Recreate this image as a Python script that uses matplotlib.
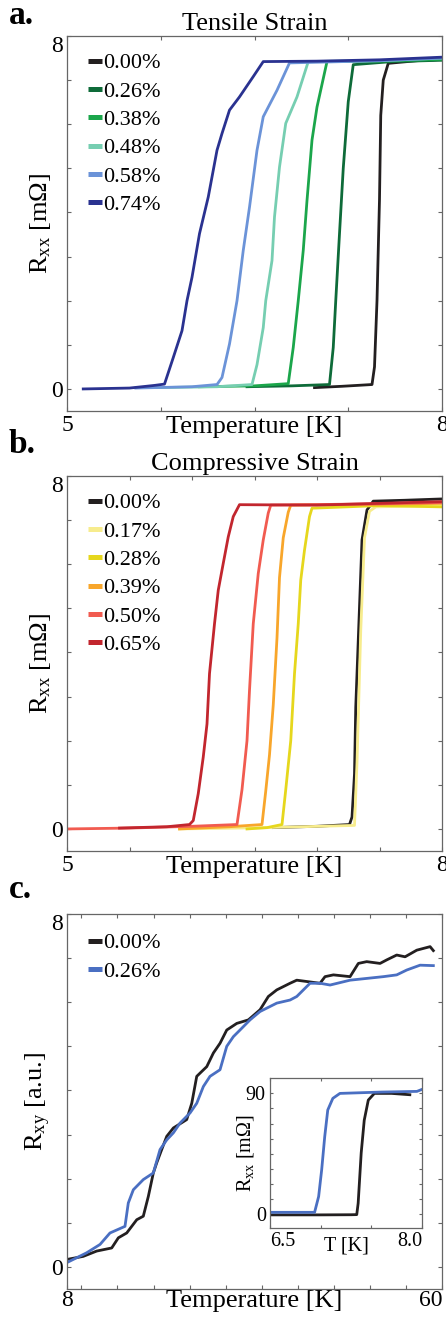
import matplotlib
matplotlib.use("Agg")
import matplotlib.pyplot as plt
import numpy as np

plt.rcParams["font.family"] = ["Liberation Serif", "DejaVu Serif"]
plt.rcParams["mathtext.fontset"] = "custom"
plt.rcParams["mathtext.rm"] = "Liberation Serif"
plt.rcParams["mathtext.it"] = "Liberation Serif:italic"

# ---- panel a: tensile strain, R_xx vs T ----
tensile_labels = ["0.00%", "0.26%", "0.38%", "0.48%", "0.58%", "0.74%"]
tensile_colors = ["#231f20", "#0e6b39", "#1ba64b", "#76ceb1", "#6b93d8", "#2a3290"]
tensile_T = [
    [6.98, 7.20, 7.44, 7.46, 7.48, 7.50, 7.51, 7.53, 7.57, 7.80, 8.0],
    [6.44, 6.80, 7.10, 7.13, 7.15, 7.18, 7.21, 7.25, 7.29, 7.60, 8.0],
    [6.06, 6.50, 6.77, 6.81, 6.85, 6.89, 6.92, 6.96, 7.00, 7.08, 7.50, 8.0],
    [5.72, 6.20, 6.48, 6.52, 6.57, 6.59, 6.64, 6.66, 6.70, 6.75, 6.84, 6.93, 7.50, 8.0],
    [5.55, 6.00, 6.20, 6.24, 6.30, 6.36, 6.41, 6.46, 6.52, 6.57, 6.68, 6.78, 7.50, 8.0],
    [5.13, 5.50, 5.70, 5.78, 5.85, 5.92, 5.96, 6.00, 6.06, 6.13, 6.20, 6.24, 6.30,
     6.38, 6.49, 6.57, 7.00, 7.50, 8.0],
]
tensile_R = [
    [0.03, 0.06, 0.10, 0.5, 2.0, 4.3, 6.2, 7.0, 7.38, 7.44, 7.47],
    [0.05, 0.07, 0.10, 0.94, 2.0, 3.52, 5.0, 6.51, 7.35, 7.42, 7.45],
    [0.05, 0.07, 0.12, 0.94, 2.0, 3.14, 4.27, 5.64, 6.39, 7.42, 7.43, 7.47],
    [0.03, 0.05, 0.10, 0.55, 1.39, 2.0, 2.91, 3.9, 5.03, 6.02, 6.62, 7.42, 7.44, 7.50],
    [0.02, 0.05, 0.10, 0.26, 1.02, 2.0, 3.14, 4.12, 5.41, 6.17, 6.77, 7.39, 7.44, 7.50],
    [0.0, 0.02, 0.08, 0.11, 0.71, 1.32, 2.0, 2.53, 3.52, 4.35, 5.41, 5.79, 6.32,
     6.62, 7.08, 7.42, 7.43, 7.46, 7.52],
]

# ---- panel b: compressive strain, R_xx vs T ----
compress_labels = ["0.00%", "0.17%", "0.28%", "0.39%", "0.50%", "0.65%"]
compress_colors = ["#231f20", "#f7ec8d", "#e6d71d", "#f8a62b", "#f15b50", "#c2262e"]
compress_T = [
    [6.65, 7.00, 7.26, 7.28, 7.30, 7.31, 7.34, 7.36, 7.40, 7.45, 7.70, 8.0],
    [5.90, 6.60, 7.30, 7.32, 7.35, 7.38, 7.42, 7.47, 8.0],
    [6.44, 6.60, 6.72, 6.75, 6.79, 6.82, 6.85, 6.87, 6.90, 6.94, 6.96, 7.50, 8.0],
    [5.90, 6.30, 6.56, 6.59, 6.62, 6.65, 6.68, 6.70, 6.73, 6.77, 6.79, 7.50, 8.0],
    [5.00, 5.50, 6.00, 6.36, 6.40, 6.44, 6.46, 6.49, 6.53, 6.57, 6.61, 6.63, 7.50, 8.0],
    [5.42, 5.80, 5.98, 6.01, 6.05, 6.09, 6.12, 6.14, 6.18, 6.21, 6.25, 6.29, 6.33,
     6.38, 7.00, 8.0],
]
compress_R = [
    [0.03, 0.06, 0.10, 0.27, 1.25, 2.76, 5.03, 6.55, 7.23, 7.43, 7.45, 7.48],
    [0.0, 0.03, 0.08, 1.5, 4.5, 6.6, 7.2, 7.30, 7.33],
    [0.0, 0.03, 0.10, 0.89, 2.0, 3.52, 4.65, 5.64, 6.32, 7.08, 7.27, 7.33, 7.30],
    [0.0, 0.05, 0.10, 0.86, 1.68, 2.81, 4.33, 5.7, 6.6, 7.18, 7.34, 7.36, 7.38],
    [0.0, 0.02, 0.06, 0.10, 0.89, 2.0, 3.14, 4.65, 5.79, 6.55, 7.16, 7.34, 7.37, 7.40],
    [0.02, 0.05, 0.10, 0.19, 0.8, 1.63, 2.38, 3.52, 4.65, 5.41, 6.02, 6.62, 7.08,
     7.35, 7.34, 7.42],
]

# ---- panel c: R_xy vs T ----
hall_labels = ["0.00%", "0.26%"]
hall_colors = ["#231f20", "#4a6fc2"]
hall_T = [
    [8.0, 10.26, 12.12, 14.2, 15.12, 16.28, 17.67, 18.58, 19.28, 19.97, 20.44, 21.13,
     21.83, 22.75, 24.6, 25.3, 25.99, 26.68, 27.38, 28.3, 29.22, 30.15, 31.54, 33.15,
     34.77, 35.92, 37.09, 38.93, 39.86, 41.24, 43.09, 43.78, 44.94, 47.25, 48.40,
     49.56, 51.41, 52.34, 53.72, 54.88, 56.5, 58.35, 58.8],
    [8.0, 10.72, 12.58, 13.96, 16.04, 16.5, 17.2, 18.58, 19.97, 20.9, 21.83, 22.75,
     23.67, 25.06, 25.99, 26.91, 27.83, 29.22, 30.15, 31.07, 31.99, 33.38, 34.77,
     37.09, 38.93, 39.86, 40.78, 41.7, 43.09, 44.48, 47.25, 49.56, 51.87, 53.72,
     55.11, 56.96, 58.8],
]
hall_R = [
    [0.17, 0.24, 0.36, 0.43, 0.66, 0.77, 1.07, 1.15, 1.60, 2.13, 2.36, 2.66, 2.96,
     3.15, 3.34, 3.71, 4.32, 4.43, 4.54, 4.85, 5.07, 5.37, 5.52, 5.6, 5.83, 6.13,
     6.28, 6.43, 6.5, 6.47, 6.43, 6.58, 6.62, 6.58, 6.88, 6.92, 6.88, 6.96, 7.07,
     7.03, 7.18, 7.26, 7.17],
    [0.1, 0.32, 0.51, 0.77, 0.92, 1.45, 1.75, 1.98, 2.13, 2.66, 2.88, 3.04, 3.26,
     3.49, 3.71, 4.09, 4.32, 4.47, 5.0, 5.22, 5.37, 5.6, 5.79, 5.98, 6.05, 6.13,
     6.28, 6.43, 6.43, 6.39, 6.5, 6.54, 6.58, 6.62, 6.73, 6.84, 6.83],
]

# ---- inset: R_xx vs T for the Hall samples ----
inset_T = [
    [6.50, 7.00, 7.30, 7.356, 7.37, 7.40, 7.43, 7.47, 7.53, 7.70, 7.88],
    [6.50, 6.80, 6.94, 6.98, 7.01, 7.04, 7.07, 7.12, 7.19, 7.60, 7.95, 8.0],
]
inset_R = [
    [-0.7, -0.7, -0.6, -0.5, 8, 45.6, 70, 85, 90, 90, 89],
    [1.2, 1.2, 1.2, 13, 33, 57.7, 77.6, 86.3, 90, 91, 91.5, 93],
]

ab_xticks = {"a": np.arange(5, 8.01, 0.75), "b": np.arange(5, 8.01, 0.5)}
ab_xticklabels = {"a": ["5", "", "", "", "8"], "b": ["5", "", "", "", "", "", "8"]}
c_xticks = [8, 10, 15, 20, 25, 30, 35, 40, 45, 50, 55, 60]
c_xticklabels = ["8"] + [""] * 10 + ["60"]
y_ticks = np.arange(0, 9, 1)
y_ticklabels = ["0", "", "", "", "", "", "", "", "8"]
inset_xticks = [6.5, 7.0, 7.5, 8.0]
inset_xticklabels = ["6.5", "", "", "8.0"]
inset_yticks = np.linspace(0, 90, 9)
inset_yticklabels = ["0"] + [""] * 7 + ["90"]

SPINE = "#666666"
W, H = 446, 1318


def style_axes(ax, tick_pad_x=3, fs=17):
    for s in ax.spines.values():
        s.set_color(SPINE)
        s.set_linewidth(0.9)
    ax.tick_params(direction="in", top=True, right=True, length=3.2, width=0.8,
                   color=SPINE, labelsize=fs)
    ax.tick_params(axis="x", pad=tick_pad_x)
    ax.tick_params(axis="y", pad=3)


def add_legend(ax, anchor):
    leg = ax.legend(loc="upper left", bbox_to_anchor=anchor, frameon=False,
                    handlelength=0.65, handletextpad=0.05, labelspacing=0.35,
                    borderpad=0, borderaxespad=0, fontsize=16)
    for line in leg.get_lines():
        line.set_linewidth(3.6)
        line.set_solid_capstyle("butt")


def panel_axes(fig, top_px):
    return fig.add_axes([67 / W, 1 - (top_px + 375) / H, 375 / W, 375 / H])


fig = plt.figure(figsize=(W / 100, H / 100), dpi=100)

# panel a
ax_a = panel_axes(fig, 36)
for T, R, c, lab in zip(tensile_T, tensile_R, tensile_colors, tensile_labels):
    ax_a.plot(T, R, color=c, lw=2.0, label=lab)
# panel b
ax_b = panel_axes(fig, 476)
for T, R, c, lab in zip(compress_T, compress_R, compress_colors, compress_labels):
    ax_b.plot(T, R, color=c, lw=2.0, label=lab)

for ax, key, title in [(ax_a, "a", "Tensile Strain"), (ax_b, "b", "Compressive Strain")]:
    ax.set_xlim(5, 8)
    ax.set_ylim(-0.5, 8)
    ax.set_xticks(ab_xticks[key], ab_xticklabels[key])
    ax.set_yticks(y_ticks, y_ticklabels)
    style_axes(ax, tick_pad_x=3)
    ax.get_yticklabels()[-1].set_va("top")
    ax.set_title(title, fontsize=19, pad=4)
    ax.set_xlabel("Temperature [K]", fontsize=19)
    ax.xaxis.set_label_coords(0.5, -0.014)
    ax.set_ylabel(r"R$_{\mathrm{xx}}$ [mΩ]", fontsize=19)
    ax.yaxis.set_label_coords(-0.037, 0.5)
    add_legend(ax, (0.056, 0.955))

# panel c
ax_c = panel_axes(fig, 914)
for T, R, c, lab in zip(hall_T, hall_R, hall_colors, hall_labels):
    ax_c.plot(T, R, color=c, lw=2.0, label=lab)
ax_c.set_xlim(8, 60)
ax_c.set_ylim(-0.5, 8)
ax_c.set_xticks(c_xticks, c_xticklabels)
ax_c.set_yticks(y_ticks, y_ticklabels)
style_axes(ax_c, tick_pad_x=0.5)
ax_c.get_yticklabels()[-1].set_va("top")
ax_c.get_xticklabels()[-1].set_ha("right")
ax_c.set_xlabel("Temperature [K]", fontsize=19)
ax_c.xaxis.set_label_coords(0.5, -0.003)
ax_c.set_ylabel(r"R$_{\mathrm{xy}}$ [a.u.]", fontsize=19)
ax_c.yaxis.set_label_coords(-0.037, 0.5)
add_legend(ax_c, (0.056, 0.95))

# inset
ax_in = fig.add_axes([270 / W, 1 - 1228 / H, 152 / W, 150 / H])
ax_in.set_facecolor("white")
for T, R, c in zip(inset_T, inset_R, hall_colors):
    ax_in.plot(T, R, color=c, lw=2.0)
ax_in.set_xlim(6.5, 8.0)
ax_in.set_ylim(-10.5, 101.5)
ax_in.set_xticks(inset_xticks, inset_xticklabels)
ax_in.set_yticks(inset_yticks, inset_yticklabels)
style_axes(ax_in, tick_pad_x=3, fs=14.5)
ax_in.tick_params(length=2.5)
ax_in.get_xticklabels()[0].set_ha("left")
ax_in.get_xticklabels()[-1].set_ha("right")
ax_in.set_xlabel("T [K]", fontsize=14.5)
ax_in.xaxis.set_label_coords(0.5, -0.06)
ax_in.set_ylabel(r"R$_{\mathrm{xx}}$ [mΩ]", fontsize=14.5)
ax_in.yaxis.set_label_coords(-0.09, 0.5)

# panel letters
for lab, y_px in [("a.", 24), ("b.", 453), ("c.", 898)]:
    fig.text(9 / W, 1 - y_px / H, lab, fontsize=24, fontweight="bold",
             ha="left", va="baseline")

fig.savefig("out.png", dpi=100)
